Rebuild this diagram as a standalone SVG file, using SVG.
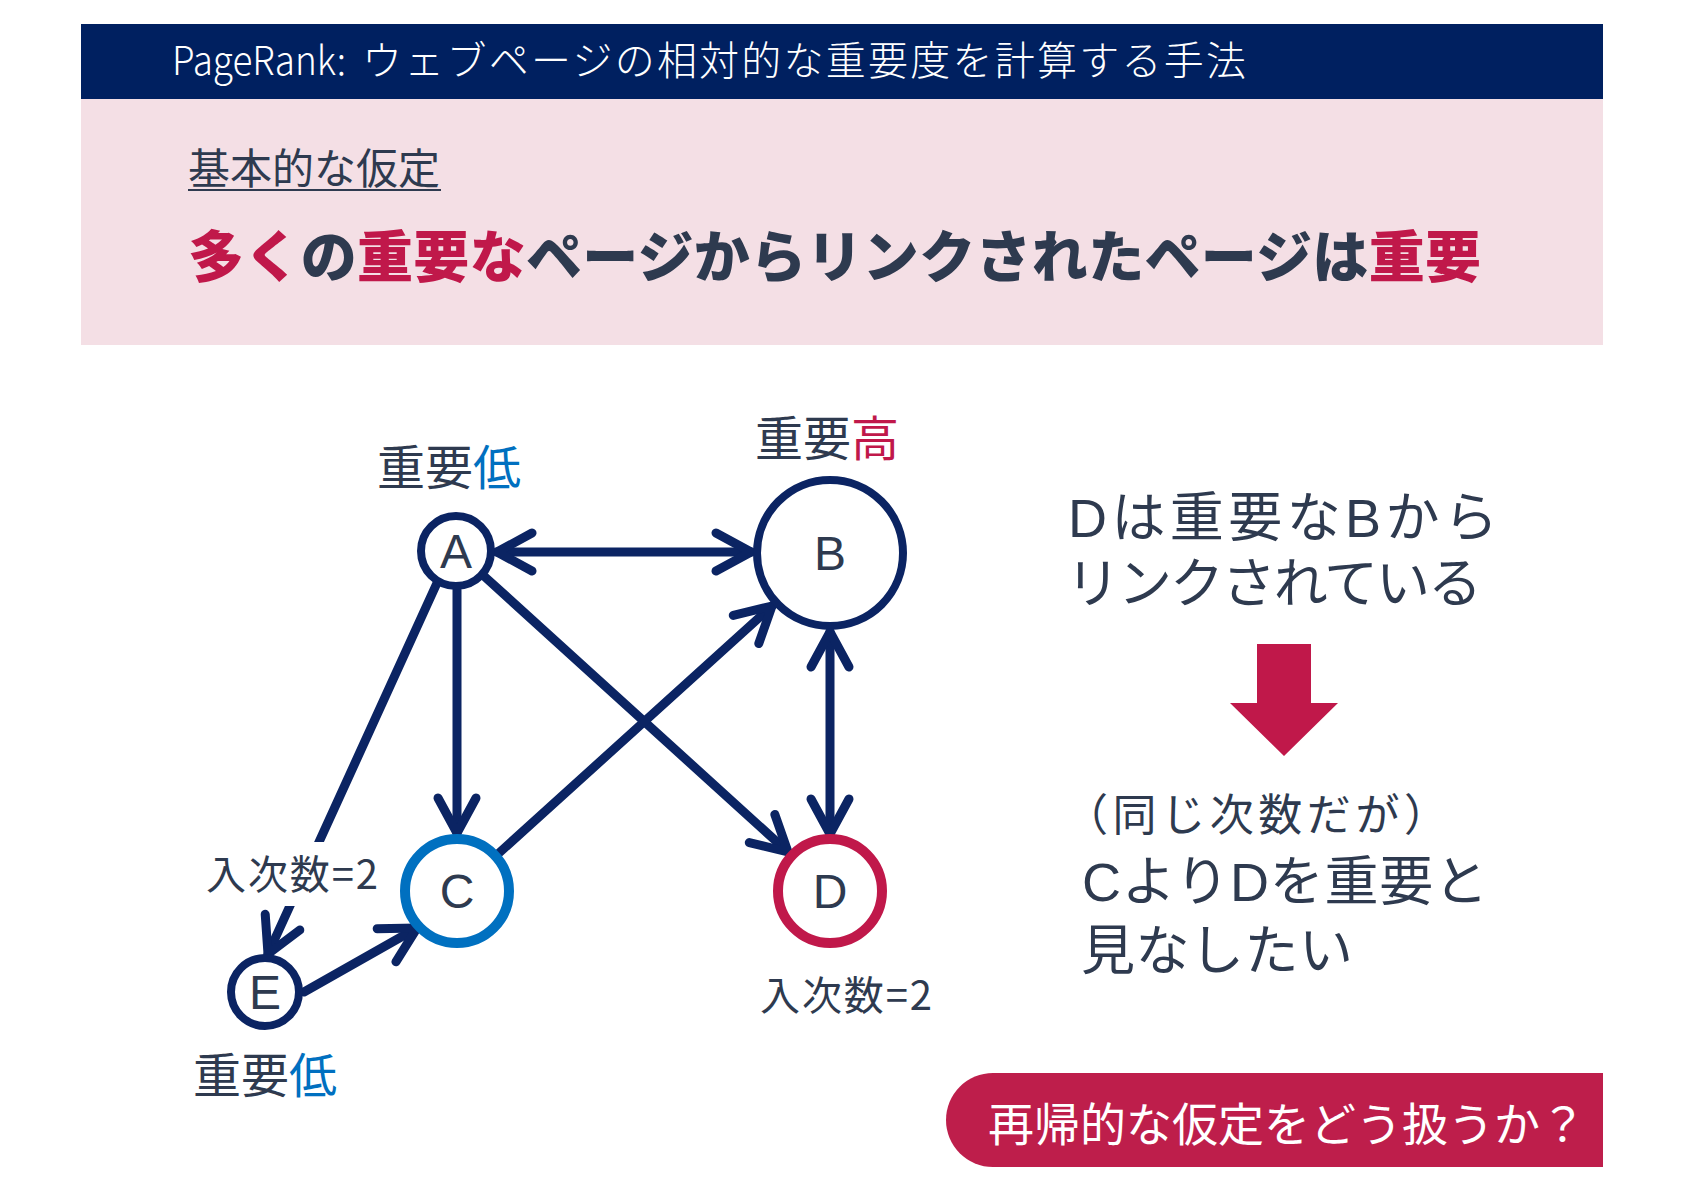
<svg xmlns="http://www.w3.org/2000/svg" width="1684" height="1191" viewBox="0 0 1684 1191">
  <style>
    .jp { font-family: "Noto Sans CJK JP", "Noto Sans", sans-serif; }
    .lat { font-family: "Liberation Sans", "Noto Sans CJK JP", sans-serif; }
    .dark { fill: #2E3A4F; }
    .red { fill: #C0184A; }
    .blue { fill: #0070C0; }
    .edge { fill: none; stroke: #0B2463; stroke-width: 9; stroke-linecap: round; }
    .node { fill: #FFFFFF; }
    .nodelbl { font-family: "Liberation Sans", Arial, sans-serif; font-size: 48px; fill: #2E3A4F; text-anchor: middle; }
  </style>
  <defs>
    <marker id="arr" markerUnits="userSpaceOnUse" viewBox="-45 -25 50 50" markerWidth="50" markerHeight="50" refX="0" refY="0" orient="auto-start-reverse" overflow="visible">
      <path d="M -35 -19 L 0 0 L -35 19" fill="none" stroke="#0B2463" stroke-width="9" stroke-linecap="round" stroke-linejoin="round"/>
    </marker>
  </defs>

  <rect width="1684" height="1191" fill="#FFFFFF"/>

  <g id="header">
    <rect x="81" y="24" width="1522" height="75" fill="#002060"/>
    <text class="jp" x="172" y="75" font-size="40" fill="#FFFFFF" font-weight="300" textLength="174" lengthAdjust="spacingAndGlyphs">PageRank:</text>
    <text class="jp" x="362" y="75" font-size="40" fill="#FFFFFF" font-weight="300" textLength="884" lengthAdjust="spacing">ウェブページの相対的な重要度を計算する手法</text>
  </g>

  <g id="assumption">
    <rect x="81" y="99" width="1522" height="246" fill="#F4DFE5"/>
    <text class="jp dark" x="188" y="184" font-size="42">基本的な仮定</text>
    <line x1="188" y1="190" x2="441" y2="190" stroke="#2E3A4F" stroke-width="2"/>
    <text class="jp" x="188" y="277" font-size="56" font-weight="900" textLength="1293" lengthAdjust="spacing"><tspan class="red">多く</tspan><tspan class="dark">の</tspan><tspan class="red">重要な</tspan><tspan class="dark">ページからリンクされたページは</tspan><tspan class="red">重要</tspan></text>
  </g>

  <g id="connectors">
    <line class="edge" x1="497" y1="552" x2="751" y2="552" marker-start="url(#arr)" marker-end="url(#arr)"/>
    <line class="edge" x1="457" y1="590" x2="457" y2="833" marker-end="url(#arr)"/>
    <line class="edge" x1="485" y1="577" x2="788" y2="852" marker-end="url(#arr)"/>
    <line class="edge" x1="499" y1="853" x2="772" y2="606" marker-end="url(#arr)"/>
    <line class="edge" x1="830" y1="632" x2="830" y2="834" marker-start="url(#arr)" marker-end="url(#arr)"/>
    <line class="edge" x1="437" y1="583" x2="268" y2="954" marker-end="url(#arr)"/>
    <line class="edge" x1="304" y1="992" x2="417" y2="928" marker-end="url(#arr)"/>
  </g>

  <g id="node-A">
    <circle class="node" cx="456" cy="551" r="35" stroke="#0B2463" stroke-width="8"/>
    <text class="nodelbl" x="456" y="568">A</text>
  </g>
  <g id="node-B">
    <circle class="node" cx="830" cy="553" r="73" stroke="#0B2463" stroke-width="8"/>
    <text class="nodelbl" x="830" y="570">B</text>
  </g>
  <g id="node-C">
    <circle class="node" cx="457" cy="891" r="52" stroke="#0070C0" stroke-width="10"/>
    <text class="nodelbl" x="457" y="908">C</text>
  </g>
  <g id="node-D">
    <circle class="node" cx="830" cy="891" r="52" stroke="#C0184A" stroke-width="10"/>
    <text class="nodelbl" x="830" y="908">D</text>
  </g>
  <g id="node-E">
    <circle class="node" cx="265" cy="992" r="34" stroke="#0B2463" stroke-width="8"/>
    <text class="nodelbl" x="265" y="1009">E</text>
  </g>

  <g id="graph-labels">
    <text class="jp dark" x="377" y="485" font-size="48">重要<tspan class="blue">低</tspan></text>
    <text class="jp dark" x="755" y="456" font-size="48">重要<tspan class="red">高</tspan></text>
    <rect x="200" y="842" width="185" height="64" fill="#FFFFFF"/>
    <text class="jp dark" x="206" y="889" font-size="40" textLength="172" lengthAdjust="spacing">入次数=2</text>
    <text class="jp dark" x="760" y="1010" font-size="40" textLength="172" lengthAdjust="spacing">入次数=2</text>
    <text class="jp dark" x="193" y="1093" font-size="48">重要<tspan class="blue">低</tspan></text>
  </g>

  <g id="explanation">
    <text class="lat dark" x="1068" y="537" font-size="54" textLength="430" lengthAdjust="spacing">Dは重要なBから</text>
    <text class="lat dark" x="1066" y="603" font-size="54" textLength="416" lengthAdjust="spacing">リンクされている</text>
    <path d="M 1257 644 L 1311 644 L 1311 703 L 1338 703 L 1284 756 L 1230 703 L 1257 703 Z" fill="#C0184A"/>
    <text class="lat dark" x="1064" y="831" font-size="44" textLength="384" lengthAdjust="spacing">（同じ次数だが）</text>
    <text class="lat dark" x="1082" y="901" font-size="54" textLength="406" lengthAdjust="spacing">CよりDを重要と</text>
    <text class="lat dark" x="1081" y="970" font-size="54" textLength="272" lengthAdjust="spacing">見なしたい</text>
  </g>

  <g id="question">
    <path d="M 993 1073 L 1603 1073 L 1603 1167 L 993 1167 A 47 47 0 0 1 993 1073 Z" fill="#BE1E4B"/>
    <text class="jp" x="988" y="1141" font-size="46" fill="#FFFFFF" textLength="598" lengthAdjust="spacing">再帰的な仮定をどう扱うか？</text>
  </g>
</svg>
